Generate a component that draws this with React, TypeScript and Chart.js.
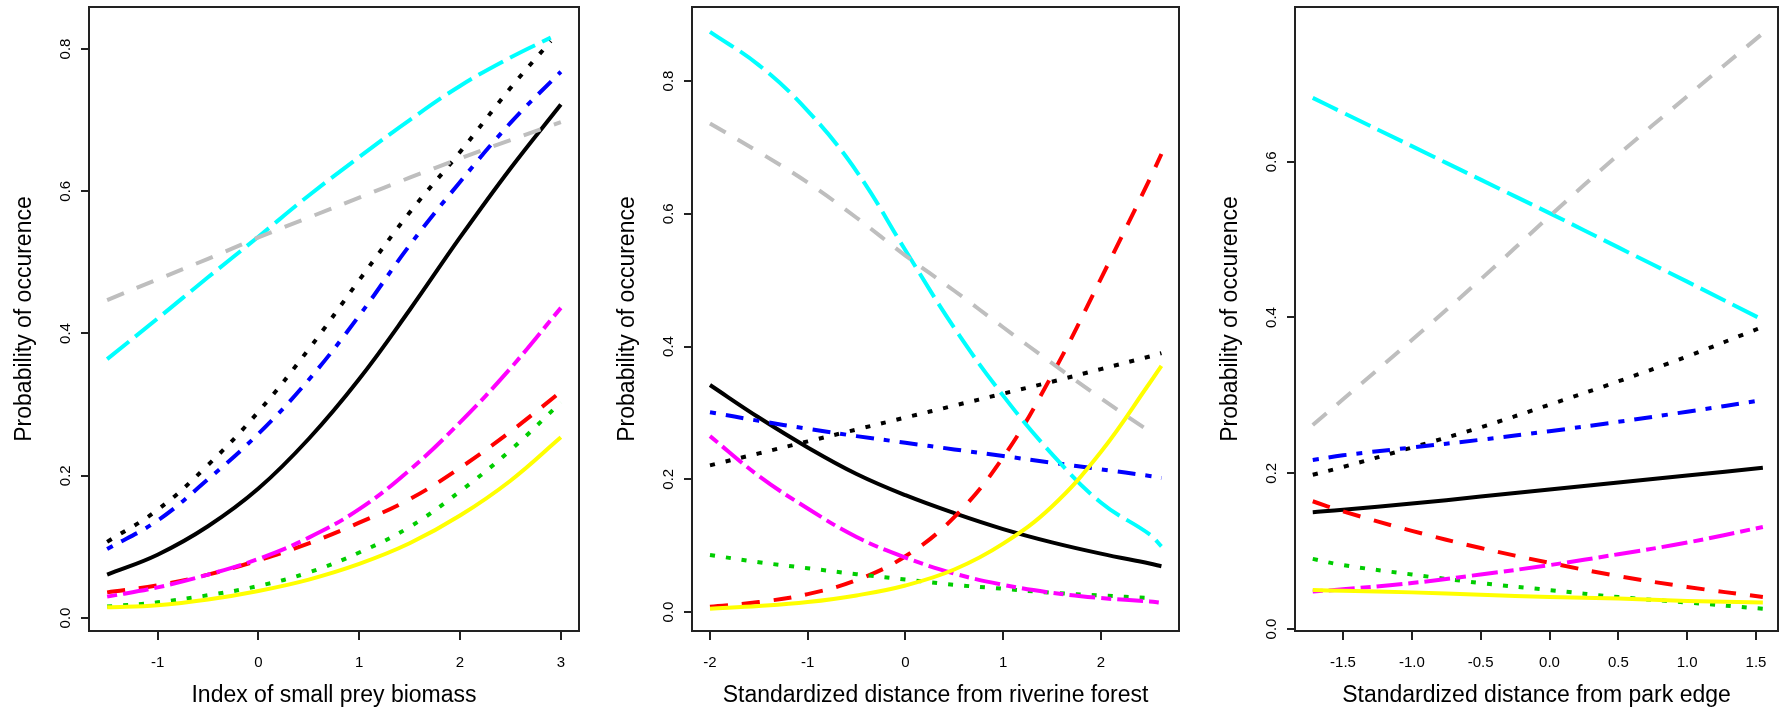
import React, { useEffect, useRef } from 'react';
import { Chart, registerables } from 'chart.js';
Chart.register(...registerables);

// ---------- Data ----------
// Panel 1: Index of small prey biomass
const P1_X = [-1.5, -1, -0.5, 0, 0.5, 1, 1.5, 2, 2.5, 3];
const P1_X_SHORT = [-1.5, -1, -0.5, 0, 0.5, 1, 1.5, 2, 2.5, 2.9];
const P1_BLACK = [0.061, 0.089, 0.129, 0.182, 0.252, 0.336, 0.433, 0.535, 0.632, 0.722];
const P1_BLACK_DOT = [0.107, 0.152, 0.215, 0.29, 0.378, 0.475, 0.57, 0.655, 0.745, 0.811];
const P1_BLUE = [0.097, 0.137, 0.195, 0.259, 0.335, 0.425, 0.524, 0.613, 0.696, 0.768];
const P1_RED = [0.036, 0.046, 0.061, 0.081, 0.105, 0.134, 0.167, 0.211, 0.262, 0.318];
const P1_GREEN = [0.016, 0.022, 0.032, 0.045, 0.064, 0.092, 0.128, 0.178, 0.236, 0.303];
const P1_MAGENTA = [0.03, 0.043, 0.061, 0.083, 0.113, 0.153, 0.208, 0.275, 0.351, 0.436];
const P1_CYAN = [0.364, 0.421, 0.479, 0.536, 0.594, 0.648, 0.7, 0.748, 0.788, 0.816];
const P1_GRAY = [0.447, 0.476, 0.505, 0.535, 0.563, 0.591, 0.619, 0.646, 0.672, 0.697];
const P1_YELLOW = [0.015, 0.018, 0.026, 0.038, 0.054, 0.076, 0.105, 0.144, 0.193, 0.254];
const P1_X_TICKS = [-1, 0, 1, 2, 3];
const P1_X_LABELS = ['-1', '0', '1', '2', '3'];

// Panel 2: Standardized distance from riverine forest
const P2_X = [-2, -1.5, -1, -0.5, 0, 0.5, 1, 1.5, 2, 2.5, 2.62];
const P2_X_SHORT = [-2, -1.5, -1, -0.5, 0, 0.5, 1, 1.5, 2, 2.5];
const P2_BLACK = [0.342, 0.293, 0.248, 0.208, 0.176, 0.149, 0.125, 0.105, 0.088, 0.073, 0.069];
const P2_BLACK_DOT = [0.221, 0.239, 0.257, 0.275, 0.293, 0.311, 0.329, 0.347, 0.366, 0.385, 0.39];
const P2_BLUE = [0.301, 0.288, 0.276, 0.265, 0.255, 0.245, 0.235, 0.225, 0.215, 0.205, 0.202];
const P2_RED = [0.008, 0.015, 0.027, 0.048, 0.084, 0.143, 0.233, 0.357, 0.502, 0.652, 0.69];
const P2_GREEN = [0.086, 0.075, 0.066, 0.057, 0.049, 0.041, 0.035, 0.029, 0.025, 0.021];
const P2_MAGENTA = [0.265, 0.205, 0.156, 0.113, 0.082, 0.058, 0.041, 0.029, 0.021, 0.016, 0.014];
const P2_CYAN = [0.874, 0.824, 0.755, 0.664, 0.545, 0.428, 0.326, 0.238, 0.165, 0.117, 0.099];
const P2_GRAY = [0.736, 0.693, 0.647, 0.594, 0.537, 0.484, 0.429, 0.375, 0.322, 0.272];
const P2_YELLOW = [0.005, 0.009, 0.015, 0.025, 0.04, 0.064, 0.103, 0.159, 0.241, 0.345, 0.371];
const P2_X_TICKS = [-2, -1, 0, 1, 2];
const P2_X_LABELS = ['-2', '-1', '0', '1', '2'];

// Panel 3: Standardized distance from park edge
const P3_X = [-1.72, -1.5, -1, -0.5, 0, 0.5, 1, 1.55];
const P3_BLACK = [0.15, 0.153, 0.161, 0.17, 0.179, 0.188, 0.197, 0.207];
const P3_BLACK_DOT = [0.198, 0.208, 0.233, 0.259, 0.288, 0.318, 0.35, 0.388];
const P3_BLUE = [0.217, 0.223, 0.233, 0.243, 0.254, 0.266, 0.279, 0.294];
const P3_RED = [0.164, 0.151, 0.126, 0.104, 0.085, 0.068, 0.054, 0.041];
const P3_GREEN = [0.09, 0.082, 0.07, 0.059, 0.05, 0.041, 0.034, 0.026];
const P3_MAGENTA = [0.048, 0.051, 0.059, 0.07, 0.082, 0.096, 0.111, 0.131];
const P3_CYAN = [0.682, 0.663, 0.62, 0.577, 0.534, 0.49, 0.446, 0.397];
const P3_GRAY = [0.262, 0.295, 0.371, 0.449, 0.53, 0.609, 0.684, 0.765];
const P3_YELLOW = [0.05, 0.049, 0.047, 0.044, 0.041, 0.039, 0.036, 0.034];
const P3_X_TICKS = [-1.5, -1, -0.5, 0, 0.5, 1, 1.5];
const P3_X_LABELS = ['-1.5', '-1.0', '-0.5', '0.0', '0.5', '1.0', '1.5'];

const Y_TICKS_A = [0, 0.2, 0.4, 0.6, 0.8];
const Y_LABELS_A = ['0.0', '0.2', '0.4', '0.6', '0.8'];
const Y_TICKS_B = [0, 0.2, 0.4, 0.6];
const Y_LABELS_B = ['0.0', '0.2', '0.4', '0.6'];

const Y_TITLE = 'Probability of occurence';

// ---------- Styles ----------
const FONT = '"Liberation Sans", Arial, Helvetica, sans-serif';
const STYLE: Record<string, { color: string; dash: number[] }> = {
  black: { color: '#000000', dash: [] },
  blackDot: { color: '#000000', dash: [5, 11] },
  blue: { color: '#0000FF', dash: [6, 10, 18, 10] },
  red: { color: '#FF0000', dash: [18, 14] },
  green: { color: '#00CD00', dash: [5, 11] },
  magenta: { color: '#FF00FF', dash: [10, 6, 26, 6] },
  cyan: { color: '#00FFFF', dash: [28, 8] },
  gray: { color: '#BEBEBE', dash: [18, 14] },
  yellow: { color: '#FFFF00', dash: [] },
};

type Series = { key: string; x: number[]; y: number[] };

const PANELS = [
  {
    left: 0, width: 600, rightPad: 21,
    xMin: -1.68, xMax: 3.18, yMin: -0.0183, yMax: 0.859,
    xTicks: P1_X_TICKS, xLabels: P1_X_LABELS, yTicks: Y_TICKS_A, yLabels: Y_LABELS_A,
    xTitle: 'Index of small prey biomass',
    series: [
      { key: 'black', x: P1_X, y: P1_BLACK },
      { key: 'blackDot', x: P1_X_SHORT, y: P1_BLACK_DOT },
      { key: 'blue', x: P1_X, y: P1_BLUE },
      { key: 'red', x: P1_X, y: P1_RED },
      { key: 'green', x: P1_X, y: P1_GREEN },
      { key: 'magenta', x: P1_X, y: P1_MAGENTA },
      { key: 'cyan', x: P1_X_SHORT, y: P1_CYAN },
      { key: 'gray', x: P1_X, y: P1_GRAY },
      { key: 'yellow', x: P1_X, y: P1_YELLOW },
    ] as Series[],
  },
  {
    left: 603, width: 600, rightPad: 24,
    xMin: -2.184, xMax: 2.8, yMin: -0.0286, yMax: 0.9115,
    xTicks: P2_X_TICKS, xLabels: P2_X_LABELS, yTicks: Y_TICKS_A, yLabels: Y_LABELS_A,
    xTitle: 'Standardized distance from riverine forest',
    series: [
      { key: 'black', x: P2_X, y: P2_BLACK },
      { key: 'blackDot', x: P2_X, y: P2_BLACK_DOT },
      { key: 'blue', x: P2_X, y: P2_BLUE },
      { key: 'red', x: P2_X, y: P2_RED },
      { key: 'green', x: P2_X_SHORT, y: P2_GREEN },
      { key: 'magenta', x: P2_X, y: P2_MAGENTA },
      { key: 'cyan', x: P2_X, y: P2_CYAN },
      { key: 'gray', x: P2_X_SHORT, y: P2_GRAY },
      { key: 'yellow', x: P2_X, y: P2_YELLOW },
    ] as Series[],
  },
  {
    left: 1206, width: 578, rightPad: 6,
    xMin: -1.849, xMax: 1.66, yMin: -0.0026, yMax: 0.7987,
    xTicks: P3_X_TICKS, xLabels: P3_X_LABELS, yTicks: Y_TICKS_B, yLabels: Y_LABELS_B,
    xTitle: 'Standardized distance from park edge',
    series: [
      { key: 'black', x: P3_X, y: P3_BLACK },
      { key: 'blackDot', x: P3_X, y: P3_BLACK_DOT },
      { key: 'blue', x: P3_X, y: P3_BLUE },
      { key: 'red', x: P3_X, y: P3_RED },
      { key: 'green', x: P3_X, y: P3_GREEN },
      { key: 'magenta', x: P3_X, y: P3_MAGENTA },
      { key: 'cyan', x: P3_X, y: P3_CYAN },
      { key: 'gray', x: P3_X, y: P3_GRAY },
      { key: 'yellow', x: P3_X, y: P3_YELLOW },
    ] as Series[],
  },
];

const framePlugin = {
  id: 'rframe',
  afterDraw(chart: any, _args: any, opts: any) {
    const { ctx, chartArea: a } = chart;
    ctx.save();
    ctx.strokeStyle = '#222';
    ctx.lineWidth = 2;
    ctx.strokeRect(a.left, a.top, a.right - a.left, a.bottom - a.top);
    const ys = chart.scales.y;
    ctx.fillStyle = '#000';
    ctx.font = `15px ${FONT}`;
    ctx.textAlign = 'center';
    ctx.textBaseline = 'middle';
    (opts.ticks as number[]).forEach((v, i) => {
      const py = ys.getPixelForValue(v);
      ctx.save();
      ctx.translate(a.left - 23, py);
      ctx.rotate(-Math.PI / 2);
      ctx.fillText(opts.labels[i], 0, 0);
      ctx.restore();
    });
    ctx.restore();
  },
};

function Panel({ cfg }: { cfg: (typeof PANELS)[number] }) {
  const ref = useRef<HTMLCanvasElement>(null);
  useEffect(() => {
    if (!ref.current) return;
    const n = cfg.series.length;
    const chart = new Chart(ref.current, {
      type: 'line',
      data: {
        datasets: cfg.series.map((s, i) => ({
          label: s.key,
          data: s.x.map((x, j) => ({ x, y: s.y[j] })),
          borderColor: STYLE[s.key].color,
          borderDash: STYLE[s.key].dash,
          borderWidth: 4,
          pointRadius: 0,
          fill: false,
          tension: 0.4,
          order: n - 1 - i,
        })),
      },
      options: {
        animation: false,
        responsive: false,
        devicePixelRatio: 1,
        events: [],
        layout: { padding: { top: 7, right: cfg.rightPad, bottom: 0, left: 0 } },
        plugins: {
          legend: { display: false },
          tooltip: { enabled: false },
          rframe: { ticks: cfg.yTicks, labels: cfg.yLabels },
        } as any,
        scales: {
          x: {
            type: 'linear',
            min: cfg.xMin,
            max: cfg.xMax,
            afterBuildTicks: (s: any) => {
              s.ticks = cfg.xTicks.map((v) => ({ value: v }));
            },
            afterFit: (s: any) => {
              s.height = 81;
            },
            ticks: {
              autoSkip: false,
              maxRotation: 0,
              minRotation: 0,
              padding: 14,
              color: '#000',
              font: { size: 15, family: FONT },
              callback: (_v: any, i: number) => cfg.xLabels[i],
            },
            grid: {
              drawOnChartArea: false,
              drawTicks: true,
              tickLength: 9,
              color: '#222',
              lineWidth: 2,
            },
            border: { display: false },
            title: {
              display: true,
              text: cfg.xTitle,
              color: '#000',
              font: { size: 23, family: FONT },
              padding: { top: 0, bottom: 3 },
            },
          },
          y: {
            type: 'linear',
            min: cfg.yMin,
            max: cfg.yMax,
            afterBuildTicks: (s: any) => {
              s.ticks = cfg.yTicks.map((v) => ({ value: v }));
            },
            afterFit: (s: any) => {
              s.width = 89;
            },
            ticks: { display: false },
            grid: {
              drawOnChartArea: false,
              drawTicks: true,
              tickLength: 8,
              color: '#222',
              lineWidth: 2,
            },
            border: { display: false },
            title: {
              display: true,
              text: Y_TITLE,
              color: '#000',
              font: { size: 23, family: FONT },
              padding: { top: 11, bottom: 0 },
            },
          },
        },
      } as any,
      plugins: [framePlugin],
    });
    return () => chart.destroy();
  }, [cfg]);
  return (
    <canvas
      ref={ref}
      width={cfg.width}
      height={712}
      style={{ position: 'absolute', left: cfg.left, top: 0, width: cfg.width, height: 712 }}
    />
  );
}

export default function App() {
  return (
    <div style={{ position: 'absolute', left: 0, top: 0, width: 1784, height: 712, background: '#fff' }}>
      {PANELS.map((p, i) => (
        <Panel key={i} cfg={p} />
      ))}
    </div>
  );
}
